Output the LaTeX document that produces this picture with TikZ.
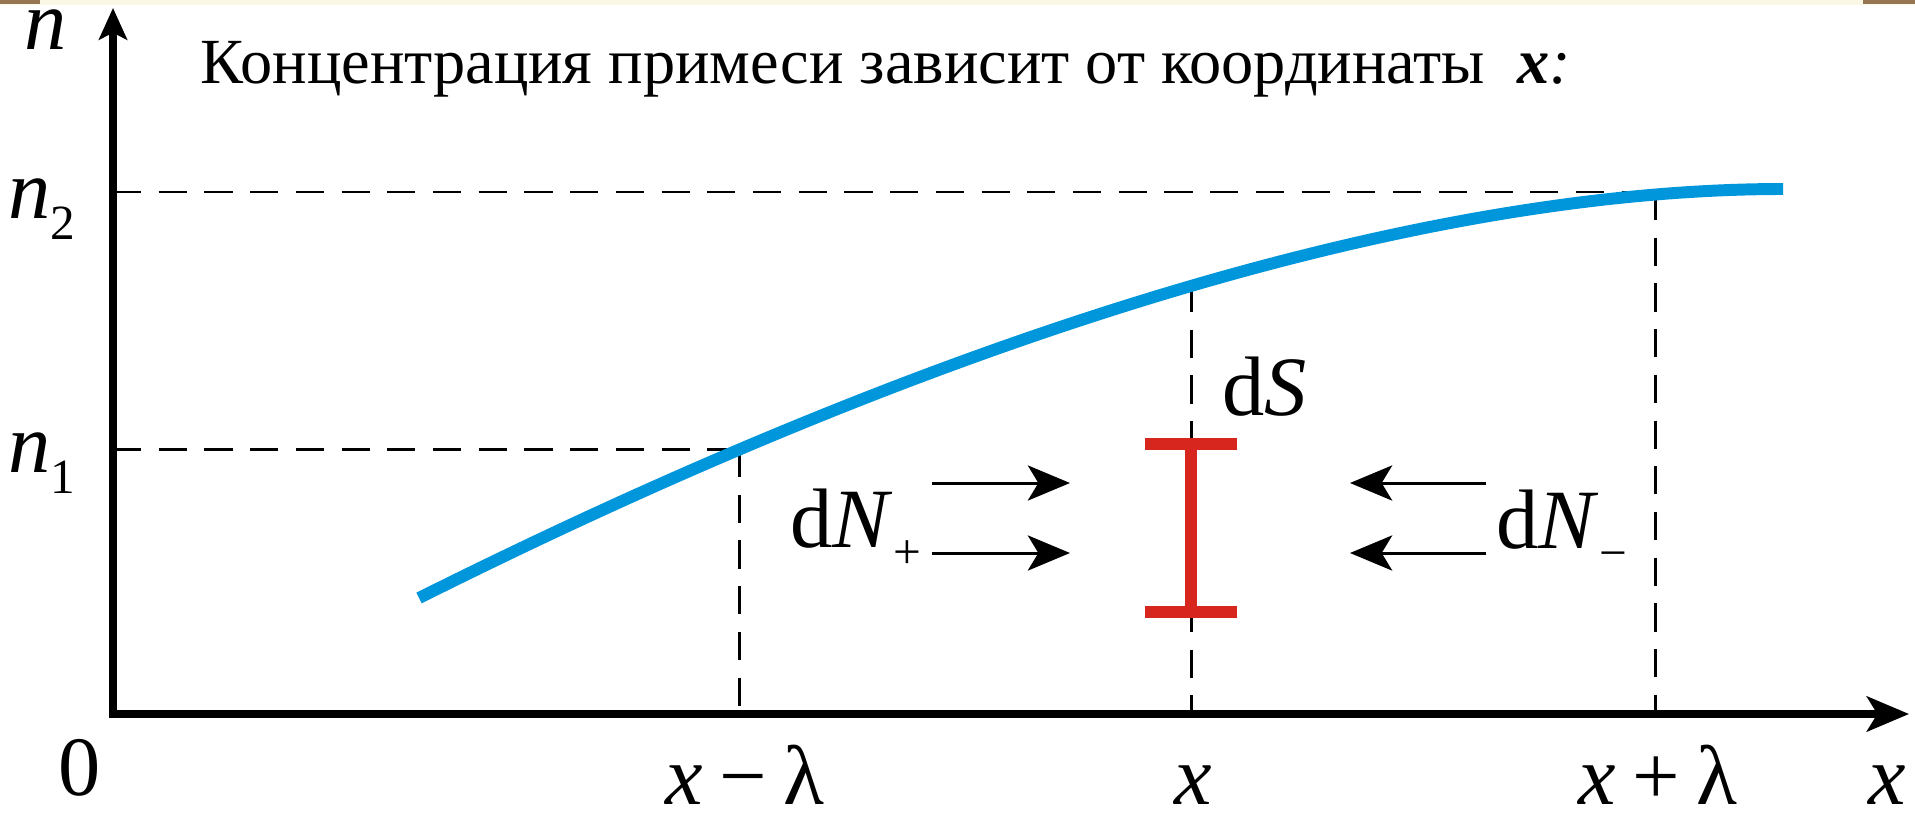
\documentclass[tikz,border=0pt]{standalone}
\usepackage{fontspec}
\setmainfont{Liberation Serif}
\usetikzlibrary{arrows.meta}

\definecolor{curveblue}{RGB}{0,150,219}
\definecolor{beamred}{RGB}{214,38,30}
\definecolor{bandbeige}{RGB}{250,247,228}
\definecolor{bandbrown}{RGB}{150,118,82}

\newcommand{\vx}{\textit{x}}
\newcommand{\lowsub}[1]{\raisebox{-6pt}{\fontsize{14}{14}\selectfont #1}}

\begin{document}
\begin{tikzpicture}[
    x=0.01cm, y=-0.01cm,
    lbl/.style={inner sep=0pt, text depth=0pt, font=\fontsize{24}{28}\selectfont},
    guide/.style={draw, line width=0.85pt, dash pattern=on 8pt off 5pt},
    axis/.style={line width=2pt, line join=miter},
    flux/.style={-{Stealth[length=12pt, width=10pt, inset=3pt]}, line width=0.85pt}
]
\useasboundingbox (0,0) rectangle (1915,815);

% strip of the slide above
\fill[bandbeige] (0,0) rectangle (1915,5);
\fill[bandbrown] (0,0) rectangle (40,4);
\fill[bandbrown] (1863,0) rectangle (1915,4);

\coordinate (O) at (113,714);
\coordinate (ytip) at (113,8);
\coordinate (xtip) at (1909,714);

% points of the curve
\coordinate (c0) at (419,598);
\coordinate (c3) at (1783,189);
\coordinate (pl) at (739,449);
\coordinate (pm) at (1191,284);
\coordinate (pr) at (1655,192);

% dashed guides
\draw[guide] (O |- pl) -- ++(637,0);
\draw[guide] (O |- pr) -- ++(1582,0);
\draw[guide] (pl) -- (pl |- O);
\draw[guide] (pm) -- (pm |- O);
\draw[guide] (pr) -- (pr |- O);

\draw[curveblue, line width=3.4pt] (c0) .. controls (969,323) and (1433,189) .. (c3);

% the area dS
\coordinate (stop) at (1191,444);
\coordinate (sbot) at (1191,612);
\draw[beamred, line width=3.6pt] (stop) -- (sbot);
\draw[beamred, line width=3.4pt] (stop) ++(-46,0) -- ++(92,0);
\draw[beamred, line width=3.4pt] (sbot) ++(-46,0) -- ++(92,0);

\draw[axis, {Stealth[length=9pt, width=8pt, inset=2pt]}-{Stealth[length=12pt, width=10pt, inset=3pt]}]
    (ytip) -- (O) -- (xtip);

% fluxes
\coordinate (lt1) at (932,483);
\coordinate (lh1) at (1070,483);
\coordinate (lt2) at (932,553);
\coordinate (lh2) at (1070,553);
\coordinate (rt1) at (1486,483);
\coordinate (rh1) at (1350,483);
\coordinate (rt2) at (1486,553);
\coordinate (rh2) at (1350,553);
\draw[flux] (lt1) -- (lh1);
\draw[flux] (lt2) -- (lh2);
\draw[flux] (rt1) -- (rh1);
\draw[flux] (rt2) -- (rh2);

% labels
\node[anchor=base west, inner sep=0pt, font=\fontsize{18.3}{22}\selectfont] (title) at (200,83)
    {Концентрация примеси зависит от координаты \ \textbf{\textit{x}}\textit{:}};
\node[lbl, anchor=base] (ylab) at (46,50) {\textit{n}};
\node[lbl, anchor=base west] (ntwo) at (8,218) {\textit{n}\lowsub{2}};
\node[lbl, anchor=base west] (none) at (8,472) {\textit{n}\lowsub{1}};
\node[lbl, anchor=base] (zero) at (80,795) {0};
\node[lbl, anchor=base] (xleft) at (745,804) {\vx\hspace{0.2em}−\hspace{0.2em}λ};
\node[lbl, anchor=base] (xmid) at (1193,804) {\vx};
\node[lbl, anchor=base] (xright) at (1658,804) {\vx\hspace{0.2em}+\hspace{0.2em}λ};
\node[lbl, anchor=base] (xaxis) at (1887,804) {\vx};
\node[lbl, anchor=base west] (dS) at (1222,415) {d\textit{S}};
\node[lbl, anchor=base west] (dNp) at (790,547) {d\textit{N}\lowsub{+}};
\node[lbl, anchor=base west] (dNm) at (1496,548) {d\textit{N}\lowsub{−}};

\end{tikzpicture}
\end{document}
